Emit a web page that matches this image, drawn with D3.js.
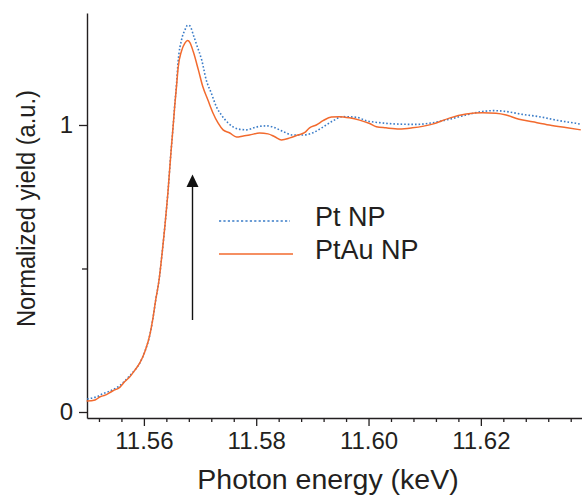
<!DOCTYPE html>
<html>
<head>
<meta charset="utf-8">
<script src="https://cdn.jsdelivr.net/npm/d3@7"></script>
<style>
  html, body { margin: 0; padding: 0; background: #fff; }
  svg { display: block; }
  text { font-family: "Liberation Sans", Arial, Helvetica, sans-serif; fill: #231f20; }
</style>
</head>
<body>
<svg id="chart" width="582" height="496"></svg>
<script>
// ---- data ----
const ptEnergy = [11.5499, 11.5506, 11.5516, 11.5526, 11.5537, 11.5547, 11.5557, 11.5566, 11.5576, 11.5584,
  11.5593, 11.5602, 11.5611, 11.5616, 11.5621, 11.5627, 11.5632, 11.5637, 11.5643, 11.5648, 11.5652,
  11.5655, 11.5658, 11.5661, 11.5667, 11.5673, 11.5678, 11.5682, 11.5688, 11.5694, 11.5703, 11.5711,
  11.5720, 11.5729, 11.5738, 11.5750, 11.5768, 11.5783, 11.5800, 11.5818, 11.5830, 11.5848, 11.5865,
  11.5883, 11.5901, 11.5919, 11.5937, 11.5954, 11.5978, 11.5996, 11.6025, 11.6055, 11.6085, 11.6108,
  11.6144, 11.6174, 11.6203, 11.6222, 11.6245, 11.6274, 11.6304, 11.6334, 11.6369, 11.6378];
const ptYield = [0.045, 0.048, 0.053, 0.063, 0.071, 0.080, 0.092, 0.108, 0.129, 0.146,
  0.172, 0.212, 0.272, 0.325, 0.390, 0.460, 0.545, 0.640, 0.770, 0.900, 0.994,
  1.072, 1.140, 1.222, 1.296, 1.331, 1.348, 1.345, 1.314, 1.279, 1.226, 1.157,
  1.111, 1.064, 1.035, 1.007, 0.986, 0.983, 0.993, 0.997, 0.993, 0.977, 0.965,
  0.965, 0.973, 0.993, 1.015, 1.029, 1.027, 1.015, 1.007, 1.003, 1.002, 1.006,
  1.020, 1.035, 1.047, 1.050, 1.047, 1.037, 1.029, 1.017, 1.006, 1.003];

const ptauEnergy = [11.5498, 11.5513, 11.5522, 11.5531, 11.5537, 11.5545, 11.5557, 11.5566, 11.5575, 11.5584,
  11.5593, 11.5602, 11.5611, 11.5616, 11.5621, 11.5627, 11.5632, 11.5637, 11.5643, 11.5648, 11.5652,
  11.5655, 11.5658, 11.5661, 11.5667, 11.5673, 11.5678, 11.5682, 11.5688, 11.5697, 11.5705, 11.5714,
  11.5723, 11.5732, 11.5741, 11.5753, 11.5765, 11.5777, 11.5788, 11.5806, 11.5821, 11.5833, 11.5845,
  11.5860, 11.5874, 11.5886, 11.5895, 11.5907, 11.5919, 11.5934, 11.5948, 11.5966, 11.5984, 11.6002,
  11.6014, 11.6031, 11.6055, 11.6078, 11.6114, 11.6144, 11.6174, 11.6203, 11.6227, 11.6245, 11.6268,
  11.6292, 11.6322, 11.6351, 11.6378];
const ptauYield = [0.038, 0.042, 0.053, 0.059, 0.065, 0.074, 0.086, 0.106, 0.123, 0.146,
  0.172, 0.212, 0.272, 0.325, 0.390, 0.460, 0.545, 0.640, 0.770, 0.900, 0.994,
  1.068, 1.133, 1.200, 1.258, 1.285, 1.294, 1.287, 1.255, 1.192, 1.133, 1.087,
  1.042, 1.007, 0.983, 0.972, 0.958, 0.962, 0.965, 0.972, 0.969, 0.959, 0.948,
  0.955, 0.965, 0.973, 0.990, 1.000, 1.015, 1.028, 1.029, 1.025, 1.017, 1.005,
  0.994, 0.990, 0.986, 0.990, 1.003, 1.024, 1.038, 1.043, 1.041, 1.035, 1.020,
  1.011, 1.000, 0.991, 0.983];

const seriesNames = ["Pt NP", "PtAu NP"];
const xMajorTicks = [11.56, 11.58, 11.60, 11.62];
const xMajorLabels = ["11.56", "11.58", "11.60", "11.62"];
const xMinorTicks = [11.552, 11.556, 11.564, 11.568, 11.572, 11.576, 11.584, 11.588, 11.592, 11.596,
  11.604, 11.608, 11.612, 11.616, 11.624, 11.628, 11.632, 11.636];
const yMajorTicks = [0, 1];
const yMajorLabels = ["0", "1"];
const yMinorTicks = [0.5];

// ---- layout ----
const svg = d3.select("#chart");
const axisColor = "#231f20";
const blue = "#3a7cc8";
const orange = "#f26a2e";

const x = d3.scaleLinear().domain([11.54987, 11.6381]).range([87, 582.5]);
const y = d3.scaleLinear().domain([-0.0209, 1.3902]).range([418, 13]);

// X axis
const xAxisMajor = d3.axisBottom(x).tickValues(xMajorTicks)
  .tickFormat((d, i) => xMajorLabels[i]).tickSize(8).tickSizeOuter(0).tickPadding(6);
const gx = svg.append("g").attr("transform", "translate(0,418)").call(xAxisMajor);
gx.select(".domain").attr("stroke", axisColor).attr("stroke-width", 1.4);
gx.selectAll(".tick line").attr("stroke", axisColor).attr("stroke-width", 1.3);
gx.selectAll(".tick text").attr("font-size", 24).attr("fill", axisColor)
  .attr("font-family", '"Liberation Sans", Arial, sans-serif');
const xAxisMinor = d3.axisBottom(x).tickValues(xMinorTicks).tickFormat("").tickSize(4).tickSizeOuter(0);
const gx2 = svg.append("g").attr("transform", "translate(0,418)").call(xAxisMinor);
gx2.select(".domain").remove();
gx2.selectAll(".tick line").attr("stroke", axisColor).attr("stroke-width", 1.3);

// Y axis
const yAxisMajor = d3.axisLeft(y).tickValues(yMajorTicks)
  .tickFormat((d, i) => yMajorLabels[i]).tickSize(8).tickSizeOuter(0).tickPadding(6);
const gy = svg.append("g").attr("transform", "translate(87,0)").call(yAxisMajor);
gy.select(".domain").attr("stroke", axisColor).attr("stroke-width", 1.4);
gy.selectAll(".tick line").attr("stroke", axisColor).attr("stroke-width", 1.3);
gy.selectAll(".tick text").attr("font-size", 24).attr("fill", axisColor)
  .attr("font-family", '"Liberation Sans", Arial, sans-serif');
const yAxisMinor = d3.axisLeft(y).tickValues(yMinorTicks).tickFormat("").tickSize(5).tickSizeOuter(0);
const gy2 = svg.append("g").attr("transform", "translate(87,0)").call(yAxisMinor);
gy2.select(".domain").remove();
gy2.selectAll(".tick line").attr("stroke", axisColor).attr("stroke-width", 1.3);

// Axis titles
svg.append("text").attr("x", 328).attr("y", 489).attr("text-anchor", "middle")
  .attr("font-size", 28.5).text("Photon energy (keV)");
svg.append("text").attr("transform", "translate(35,208.5) rotate(-90)")
  .attr("text-anchor", "middle").attr("font-size", 26)
  .attr("textLength", 237).attr("lengthAdjust", "spacingAndGlyphs")
  .text("Normalized yield (a.u.)");

// Curves
const line = d3.line().x(d => x(d[0])).y(d => y(d[1])).curve(d3.curveMonotoneX);
const ptData = ptEnergy.map((e, i) => [e, ptYield[i]]);
const ptauData = ptauEnergy.map((e, i) => [e, ptauYield[i]]);

svg.append("path").datum(ptData).attr("d", line).attr("fill", "none")
  .attr("stroke", blue).attr("stroke-width", 1.6).attr("stroke-dasharray", "1.6,2");
svg.append("path").datum(ptauData).attr("d", line).attr("fill", "none")
  .attr("stroke", orange).attr("stroke-width", 1.5);

// Arrow
svg.append("line").attr("x1", 192.5).attr("x2", 192.5).attr("y1", 320).attr("y2", 184)
  .attr("stroke", "#111").attr("stroke-width", 1.4);
svg.append("path").attr("d", "M186.5,187 L198.5,187 L192.5,174.5 Z").attr("fill", "#111");

// Legend
const legend = svg.append("g");
const legendItems = [
  { name: seriesNames[0], color: blue, dash: "2.2,2.2", y: 221, x2: 290, ty: 226 },
  { name: seriesNames[1], color: orange, dash: null, y: 254, x2: 293, ty: 259 }
];
legendItems.forEach(it => {
  legend.append("line").attr("x1", 219).attr("x2", it.x2).attr("y1", it.y).attr("y2", it.y)
    .attr("stroke", it.color).attr("stroke-width", 1.6).attr("stroke-dasharray", it.dash);
  legend.append("text").attr("x", 315).attr("y", it.ty).attr("font-size", 27).text(it.name);
});
</script>
</body>
</html>
